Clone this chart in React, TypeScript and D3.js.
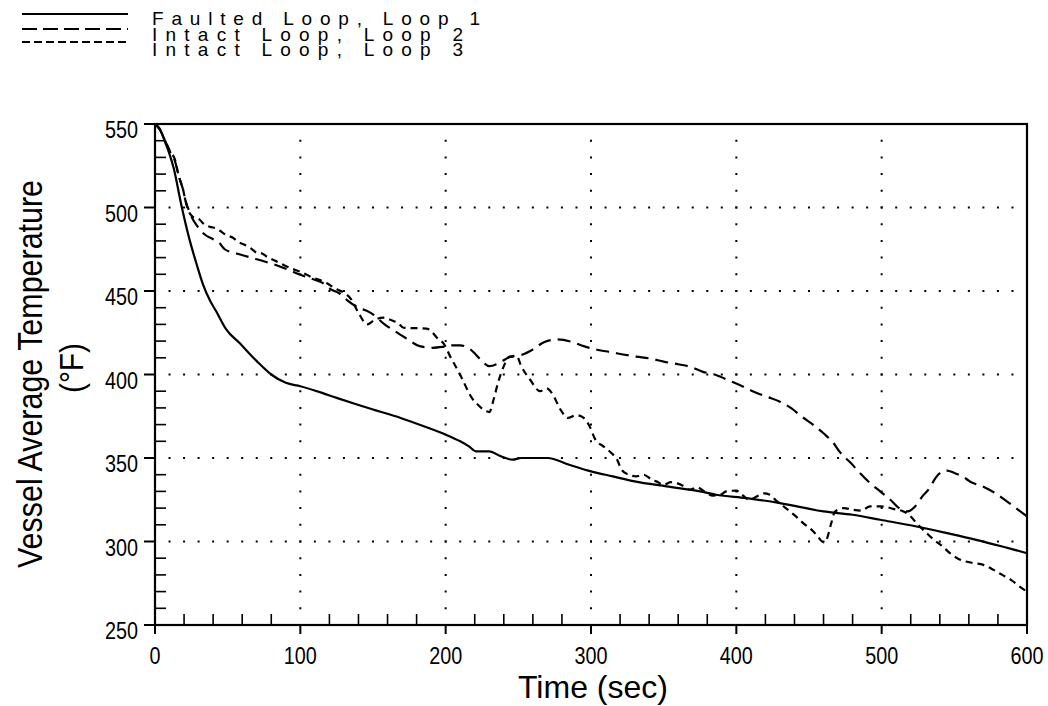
import React from "react";
import * as d3 from "d3";

const loop1: [number, number][] = [
  [0, 550], [3, 547.5], [7, 539], [10, 532], [13, 523], [18, 502], [24, 480], [29, 465], [33, 454], [38, 444],
  [42, 438], [49, 427], [58, 419], [70, 408], [80, 400], [90, 395], [100, 393], [115, 389], [125, 386], [139, 382],
  [150, 379], [169, 374], [185, 369], [200, 364], [210, 360], [216, 357], [221, 354], [230, 354], [238, 351], [246, 349],
  [252, 350], [270, 350], [285, 346], [300, 342], [315, 339], [330, 336], [352, 333], [375, 330], [386, 328], [407, 326],
  [430, 323], [460, 318], [480, 316], [499, 313], [524, 309], [545, 305], [565, 301], [583, 297], [600, 293],
];

const loop2: [number, number][] = [
  [0, 550], [3, 547], [7, 540], [10, 534], [14, 527], [16, 520], [19.5, 510], [21, 504], [23, 499], [26, 493],
  [29, 489], [34, 484], [40, 481], [44, 479], [48, 475], [54, 473], [58, 472], [66, 470], [76, 467.5], [85, 465],
  [91, 463], [99, 460], [109, 457], [115, 455], [121, 451], [127, 448.5], [133, 444], [140, 440], [146, 438], [150, 436],
  [158, 430], [165, 426], [174, 421], [182, 417], [191, 416], [198, 416.5], [205, 417.5], [210, 417.5], [217, 415], [224, 409],
  [230, 405], [237, 407], [244, 410.5], [253, 412], [260, 415], [268, 419.5], [277, 421], [287, 419.5], [295, 417], [306, 414.5],
  [313, 413.5], [322, 412], [331, 410.7], [341, 409.5], [350, 407.7], [361, 406], [368, 404.7], [377, 401.6], [386, 399.7], [396, 396],
  [404, 393], [412, 389.7], [421, 386.7], [430, 383.7], [438, 379.7], [445, 374.8], [453, 369.8], [460, 364.8], [467, 358.8], [471, 353.8],
  [479, 346.8], [485, 341], [492, 335], [499, 330], [506, 325], [512, 320], [518, 318], [523, 321], [528, 327], [533, 332],
  [537, 338], [541, 341.5], [545, 342.5], [550, 341], [556, 338.8], [561, 335.8], [570, 332.8], [578, 329], [585, 324.8], [594, 319],
  [600, 315],
];

const loop3: [number, number][] = [
  [0, 550], [3, 547], [7, 540], [10, 534], [14, 528], [16, 520], [19.5, 510], [21, 504], [23, 498], [26, 494.5],
  [31, 492.5], [33, 490.6], [38, 488.4], [42, 487.5], [46, 485.3], [49, 483.5], [54, 481.7], [57, 479.5], [62, 477.5], [66, 475.5],
  [70, 473], [73, 472.7], [77, 470.5], [84, 467.5], [93, 463.8], [102, 460.8], [107, 458.6], [118, 454.8], [125, 451], [130, 449],
  [135, 445], [140, 437], [146, 430], [151, 432.6], [157, 434], [164, 432], [167, 431], [171, 428], [187, 427.5], [191, 425],
  [194, 422], [199, 418], [203, 411], [208, 403], [211, 398], [218, 386], [222, 382], [228, 378], [230, 377.5], [233, 385],
  [236, 395], [240, 405], [244, 410.7], [249, 410.7], [252, 405], [258, 397], [265, 390], [269.5, 391.7], [273, 389], [279, 379],
  [284, 374], [290, 375.7], [295, 374], [299, 369], [303, 361], [308.5, 357], [314, 353], [318, 349], [321, 343], [326, 340],
  [331, 339], [336, 340], [342, 337], [345, 336], [350, 334], [355, 335.5], [359, 335], [364, 333], [368, 331], [373, 332.5],
  [378, 330], [384, 327.5], [389, 328], [393, 330], [400, 330.5], [404, 328], [409, 325], [414, 327], [419, 328.8], [423, 328],
  [428, 324], [434, 320], [441, 315], [446, 311], [453, 306], [456, 303], [460, 299.5], [462, 301], [465, 310], [468, 318],
  [474, 320], [480, 319], [486, 318.5], [492, 321], [499, 321], [504, 320.5], [508, 319.5], [515, 318], [520, 315], [524, 311],
  [531, 305], [536, 301], [542, 297], [547, 293], [552, 290], [558, 288], [564, 287], [570, 286], [577, 283], [583, 280],
  [589, 277], [595, 273], [600, 270],
];

const legendLabels = ["Faulted Loop, Loop 1", "Intact Loop, Loop 2", "Intact Loop, Loop 3"];
const xMajorTicks = [0, 100, 200, 300, 400, 500, 600];
const yMajorTicks = [250, 300, 350, 400, 450, 500, 550];
const xGrid = [100, 200, 300, 400, 500];
const yGrid = [300, 350, 400, 450, 500];

export default function App() {
  const x = d3.scaleLinear().domain([0, 600]).range([155, 1027]);
  const y = d3.scaleLinear().domain([250, 550]).range([625, 124]);
  const line = d3
    .line<[number, number]>()
    .x((d) => x(d[0]))
    .y((d) => y(d[1]))
    .curve(d3.curveMonotoneX);

  const xMinor = d3.range(20, 600, 20).filter((v) => v % 100 !== 0);
  const yMinor = d3.range(260, 550, 10).filter((v) => v % 50 !== 0);
  const xStep = x(10) - x(0);
  const yStep = y(0) - y(10);

  const series = [
    { data: loop1, dash: "none", legendDash: "none" },
    { data: loop2, dash: "13 7", legendDash: "15 6" },
    { data: loop3, dash: "7 5", legendDash: "8 4" },
  ];
  const legendY = [14, 29, 42];
  const legendBase = [25, 40.5, 56];
  const legendWidths = [328, 311, 311];
  const font = "'Liberation Sans', Arial, sans-serif";

  return (
    <svg width={1048} height={706} style={{ position: "absolute", left: 0, top: 0, background: "#fff" }}>
      {/* legend */}
      {series.map((s, i) => (
        <g key={i}>
          <line x1={22} x2={128} y1={legendY[i]} y2={legendY[i]} stroke="#000" strokeWidth={1.8} strokeDasharray={s.legendDash} />
          <text x={152} y={legendBase[i]} fontFamily={font} fontSize={19} textLength={legendWidths[i]} lengthAdjust="spacing" fill="#000">
            {legendLabels[i]}
          </text>
        </g>
      ))}

      {/* dotted grid */}
      {xGrid.map((v) => (
        <line key={"gx" + v} x1={x(v)} x2={x(v)} y1={y(550)} y2={y(250)} stroke="#000" strokeWidth={2}
          strokeDasharray={`2 ${yStep - 2}`} strokeDashoffset={1} />
      ))}
      {yGrid.map((v) => (
        <line key={"gy" + v} x1={x(0)} x2={x(600)} y1={y(v)} y2={y(v)} stroke="#000" strokeWidth={2}
          strokeDasharray={`2 ${xStep - 2}`} strokeDashoffset={1} />
      ))}

      {/* ticks */}
      {yMinor.map((v) => (
        <line key={"ym" + v} x1={x(0)} x2={x(0) + 11} y1={y(v)} y2={y(v)} stroke="#000" strokeWidth={1.6} />
      ))}
      {yMajorTicks.map((v) => (
        <line key={"yM" + v} x1={x(0) - 11} x2={x(0)} y1={y(v)} y2={y(v)} stroke="#000" strokeWidth={2} />
      ))}
      {xMinor.map((v) => (
        <line key={"xm" + v} x1={x(v)} x2={x(v)} y1={y(250)} y2={y(250) - 11} stroke="#000" strokeWidth={1.6} />
      ))}
      {xMajorTicks.map((v) => (
        <line key={"xM" + v} x1={x(v)} x2={x(v)} y1={y(250)} y2={y(250) + 9} stroke="#000" strokeWidth={2} />
      ))}

      {/* frame */}
      <rect x={x(0)} y={y(550)} width={x(600) - x(0)} height={y(250) - y(550)} fill="none" stroke="#000" strokeWidth={2.2} />

      {/* curves */}
      {series.map((s, i) => (
        <path key={"c" + i} d={line(s.data) || ""} fill="none" stroke="#000" strokeWidth={2.2}
          strokeDasharray={s.dash} strokeLinejoin="round" />
      ))}

      {/* tick labels */}
      {yMajorTicks.map((v) => (
        <text key={"yl" + v} x={138} y={y(v) + 14} textAnchor="end" fontFamily={font} fontSize={23}
          textLength={33} lengthAdjust="spacingAndGlyphs" fill="#000">
          {v}
        </text>
      ))}
      {xMajorTicks.map((v) => {
        const label = String(v);
        const w = label.length === 1 ? 11 : 33;
        return (
          <text key={"xl" + v} x={x(v) - w / 2} y={664} fontFamily={font} fontSize={23}
            textLength={w} lengthAdjust="spacingAndGlyphs" fill="#000">
            {label}
          </text>
        );
      })}

      {/* axis titles */}
      <text x={518} y={698} fontFamily={font} fontSize={32} textLength={150} lengthAdjust="spacingAndGlyphs" fill="#000">
        Time (sec)
      </text>
      <text transform={`translate(42, ${374 + 194}) rotate(-90)`} fontFamily={font} fontSize={35}
        textLength={388} lengthAdjust="spacingAndGlyphs" fill="#000">
        Vessel Average Temperature
      </text>
      <text transform={`translate(83, ${368 + 25}) rotate(-90)`} fontFamily={font} fontSize={34}
        textLength={50} lengthAdjust="spacingAndGlyphs" fill="#000">
        (°F)
      </text>
    </svg>
  );
}
